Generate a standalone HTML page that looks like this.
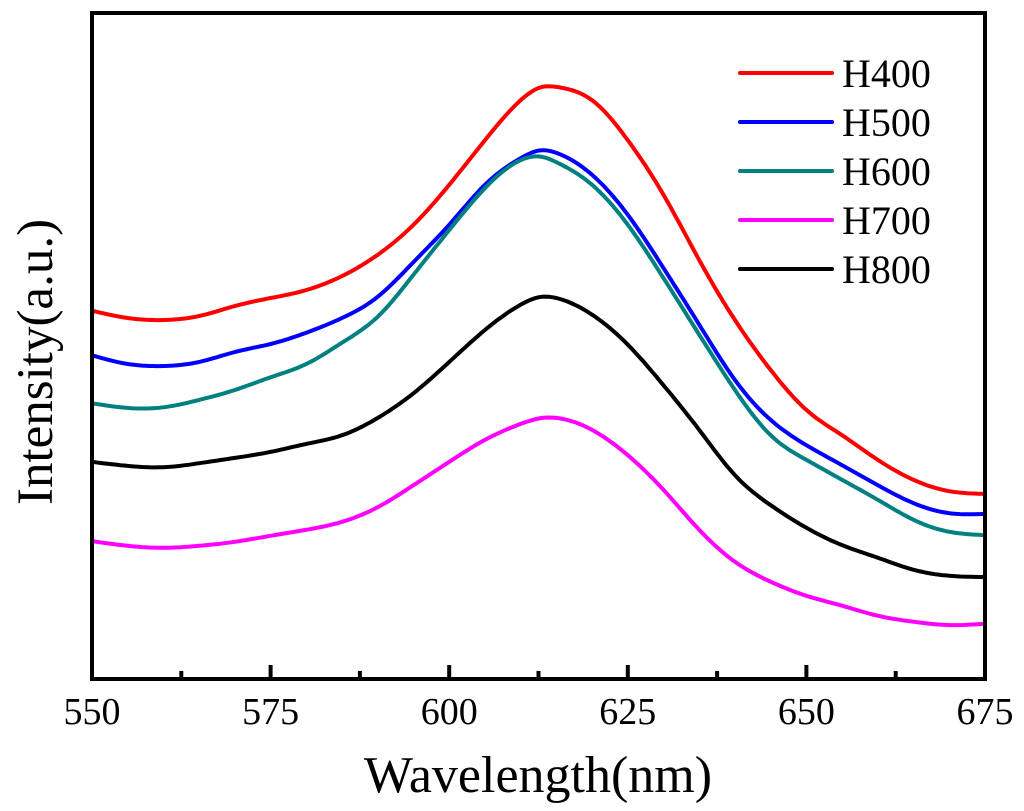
<!DOCTYPE html>
<html><head><meta charset="utf-8"><style>
body{margin:0;background:#fff}
svg{display:block;font-family:"Liberation Serif",serif}
</style></head><body>
<svg id="chart" width="1024" height="811" viewBox="0 0 1024 811">
<g id="plot"></g>
<text x="538" y="792" font-size="52" text-anchor="middle">Wavelength(nm)</text>
<text transform="translate(52,362) rotate(-90)" font-size="51" text-anchor="middle">Intensity(a.u.)</text>
</svg>
<script>
const wavelengths=[550,555,560,565,570,575,580,585,590,595,600,605,610,613,615,620,625,630,635,640,645,650,655,660,665,670,675];
const h400=[55.3,54.2,53.9,54.5,56.0,57.2,58.4,60.5,63.7,68.2,74.2,80.9,86.9,88.9,88.9,86.9,80.9,72.7,62.9,53.9,46.4,40.4,36.6,32.9,29.9,28.2,27.8];
const h500=[48.6,47.3,47.0,47.6,49.1,50.3,52.0,54.2,57.4,62.6,68.2,74.2,78.2,79.4,79.0,75.7,69.7,61.7,53.2,44.9,38.9,35.1,32.1,29.1,26.4,24.9,24.8];
const h600=[41.4,40.7,40.8,41.9,43.4,45.3,47.3,50.5,54.4,60.7,67.4,73.7,77.9,78.4,77.6,74.2,68.2,60.2,51.7,43.4,36.6,32.9,29.9,26.9,23.9,22.1,21.6];
const h700=[20.7,20.0,19.7,20.0,20.6,21.5,22.4,23.6,25.8,29.1,32.6,35.9,38.3,39.2,39.2,37.4,33.6,28.4,22.4,17.6,14.6,12.5,11.0,9.5,8.6,8.1,8.3];
const h800=[32.6,32.0,31.8,32.4,33.2,34.1,35.3,36.6,39.2,42.9,47.6,52.4,56.2,57.4,57.2,54.7,50.2,44.1,37.4,30.6,26.1,22.7,20.1,18.2,16.4,15.5,15.3];
const seriesNames=["H400","H500","H600","H700","H800"];
const xTicks=[550,575,600,625,650,675];
const xMinor=[562.5,587.5,612.5,637.5,662.5];

const NS="http://www.w3.org/2000/svg";
const X0=92,X1=985,Y0=679,Y1=13;
const xs=v=>X0+(v-550)/(675-550)*(X1-X0);
const ys=v=>Y0-v*(Y0-Y1)/100;
const g=document.getElementById('plot');
function mk(t,a,p){const e=document.createElementNS(NS,t);for(const k in a)e.setAttribute(k,a[k]);(p||g).appendChild(e);return e;}
const colors=["#ff0000","#0000ff","#008080","#ff00ff","#000000"];
const data=[h400,h500,h600,h700,h800];
function spline(x,y){
  const n=x.length,h=[],al=[],l=[1],mu=[0],z=[0],c=new Array(n).fill(0);
  for(let i=0;i<n-1;i++)h[i]=x[i+1]-x[i];
  for(let i=1;i<n-1;i++)al[i]=3/h[i]*(y[i+1]-y[i])-3/h[i-1]*(y[i]-y[i-1]);
  for(let i=1;i<n-1;i++){l[i]=2*(x[i+1]-x[i-1])-h[i-1]*mu[i-1];mu[i]=h[i]/l[i];z[i]=(al[i]-h[i-1]*z[i-1])/l[i];}
  const b=[],d=[];
  for(let j=n-2;j>=0;j--){c[j]=(j<n-2||true)?(z[j]||0)-mu[j]*c[j+1]:0;b[j]=(y[j+1]-y[j])/h[j]-h[j]*(c[j+1]+2*c[j])/3;d[j]=(c[j+1]-c[j])/(3*h[j]);}
  c[0]=0;
  return t=>{let i=0;while(i<n-2&&t>x[i+1])i++;const dx=t-x[i];return y[i]+b[i]*dx+c[i]*dx*dx+d[i]*dx*dx*dx;};
}
function path(vals){
  const f=spline(wavelengths,vals);
  let d='';
  for(let w=550;w<=675.001;w+=0.5){d+=(d?'L':'M')+xs(w).toFixed(1)+','+ys(f(w)).toFixed(1);}
  return d;
}
data.forEach((vals,i)=>{
  const el=mk('path',{d:path(vals),fill:'none',stroke:colors[i],'stroke-width':4,'stroke-linejoin':'round'});
  
  
});
const frame=mk('rect',{x:X0,y:Y1,width:X1-X0,height:Y0-Y1,fill:'none',stroke:'#000','stroke-width':4});


xTicks.forEach(t=>{
  const l=mk('line',{x1:xs(t),x2:xs(t),y1:Y0,y2:Y0-14,stroke:'#000','stroke-width':4});
  
  
  const tx=mk('text',{x:xs(t),y:724,'font-size':38,'text-anchor':'middle'});
  tx.textContent=t;
  
  
});
xMinor.forEach(t=>{
  const l=mk('line',{x1:xs(t),x2:xs(t),y1:Y0,y2:Y0-8,stroke:'#000','stroke-width':4});
  
  
});
seriesNames.forEach((n,i)=>{
  const y=73+i*49;
  const l=mk('line',{x1:740,x2:832,y1:y,y2:y,stroke:colors[i],'stroke-width':4,'stroke-linecap':'round'});
  
  
  const t=mk('text',{x:842,y:y+14,'font-size':40});
  t.textContent=n;
  
  
});
</script>
</body></html>
